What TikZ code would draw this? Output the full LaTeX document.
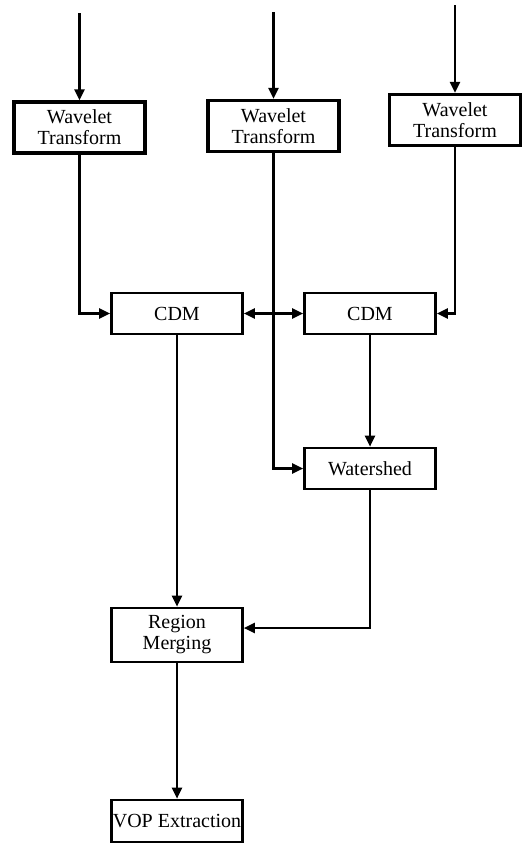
\documentclass[tikz,border=0pt]{standalone}
\usepackage{fontspec}
\setmainfont{Liberation Serif}
\usepackage{tikz}
\usetikzlibrary{arrows.meta,positioning,calc}

\begin{document}
\begin{tikzpicture}[x=1pt, y=-1pt, >={Triangle[length=11pt,width=10pt]},
    blk/.style={draw, line width=2.6pt, fill=white, inner sep=0pt, align=center,
        font=\fontsize{20}{21}\selectfont, minimum width=131pt, minimum height=41pt},
    wtblk/.style={blk, line width=3.2pt, minimum height=51pt},
    flow/.style={->, line width=2.4pt}]
    \useasboundingbox (0,0) rectangle (524,844);

    % Wavelet stages
    \node[wtblk] (wt1) at (79.5,127.5) {Wavelet\\Transform};
    \node[wtblk] (wt2) at (273.5,126) {Wavelet\\Transform};
    \node[wtblk] (wt3) at (455,120) {Wavelet\\Transform};

    % Inputs
    \coordinate (in1) at (79.5,13);
    \coordinate (in2) at (273.5,12);
    \coordinate (in3) at (455,5);

    % Middle stages
    \node[blk] (cdm1) at (177,313.5) {CDM};
    \node[blk] (cdm2) at (370,313.5) {CDM};
    \node[blk] (ws) at (370,468.5) {Watershed};

    % Output stages
    \node[blk, minimum height=54pt] (rm) at (177,635) {Region\\Merging};
    \node[blk, minimum height=42pt] (vop) at (177,821) {VOP Extraction};

    % Connectors
    \draw[flow] (in1) -- (wt1);
    \draw[flow] (in2) -- (wt2);
    \draw[flow] (in3) -- (wt3);
    \draw[flow] (wt1) |- (cdm1);
    \draw[flow] (wt3) |- (cdm2);
    \draw[flow, <->] (cdm1) -- (cdm2);
    \draw[flow] (wt2) |- (ws);
    \draw[flow] (cdm2) -- (ws);
    \draw[flow] (cdm1) -- (rm);
    \draw[flow] (ws) |- ([yshift=7pt]rm.east);
    \draw[flow] (rm) -- (vop);
\end{tikzpicture}
\end{document}
